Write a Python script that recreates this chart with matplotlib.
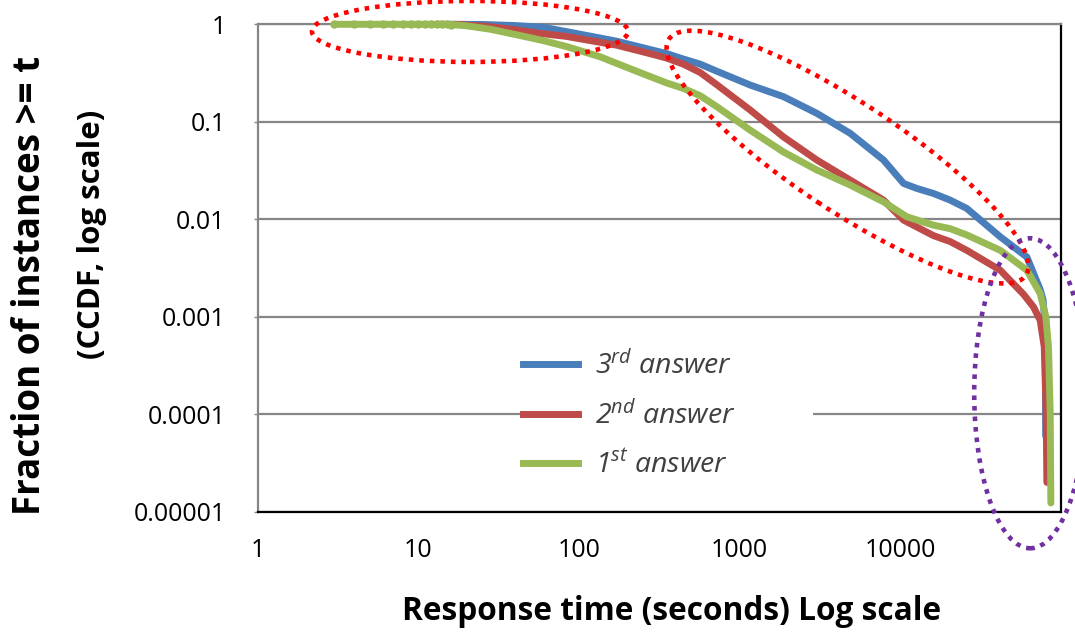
import matplotlib
matplotlib.use("Agg")
import matplotlib.pyplot as plt
from matplotlib.patches import Ellipse, Rectangle
from matplotlib.lines import Line2D
from matplotlib.transforms import ScaledTranslation
from matplotlib.ticker import NullLocator, FixedLocator, FixedFormatter

plt.rcParams['font.family'] = ['Open Sans', 'DejaVu Sans']
plt.rcParams['mathtext.fontset'] = 'custom'
plt.rcParams['mathtext.it'] = 'Open Sans:italic'
plt.rcParams['mathtext.rm'] = 'Open Sans'

# ---------------- data ----------------
series_names = ["3$^{rd}$ answer", "2$^{nd}$ answer", "1$^{st}$ answer"]
series_colors = ["#4A7EBB", "#BE4B48", "#98B954"]

third_x = [15, 25, 40, 60, 84, 172, 352, 447, 569, 722, 1165, 1877, 3030, 4890,
           7880, 10500, 12700, 16100, 20500, 26000, 42000, 61500, 74400, 77500,
           79500, 80200, 80500]
third_y = [1.0, 0.995, 0.97, 0.93, 0.84, 0.67, 0.50, 0.44, 0.39, 0.33, 0.238,
           0.181, 0.122, 0.076, 0.0405, 0.0233, 0.0207, 0.0184, 0.0157, 0.0129,
           0.0066, 0.0041, 0.0019, 0.0015, 0.0009, 0.0003, 0.00006]

second_x = [13, 18, 27, 40, 56, 84, 172, 277, 352, 447, 569, 722, 1165, 1877,
            3030, 4890, 7880, 10500, 16100, 20500, 26000, 42000, 58600, 67600,
            74400, 78900, 81100, 81900]
second_y = [1.0, 0.995, 0.95, 0.88, 0.81, 0.75, 0.61, 0.50, 0.45, 0.39, 0.32,
            0.24, 0.132, 0.070, 0.0405, 0.0252, 0.0157, 0.0098, 0.0068, 0.0059,
            0.0048, 0.0030, 0.0017, 0.00126, 0.00092, 0.00049, 0.0001, 0.00002]

first_x = [3, 4, 5, 6, 7, 8, 9, 10, 11, 12, 13, 14, 15, 16, 20, 28, 41, 60, 84,
           135, 218, 352, 447, 569, 722, 1165, 1877, 3030, 4890, 7880, 11000,
           16100, 20500, 26000, 42000, 61500, 74400, 80700, 83800, 85900, 86700]
first_y = [1.0, 1.0, 1.0, 1.0, 1.0, 1.0, 1.0, 1.0, 1.0, 1.0, 1.0, 0.999, 0.997,
           0.993, 0.965, 0.89, 0.78, 0.68, 0.59, 0.465, 0.34, 0.25, 0.22, 0.185,
           0.143, 0.082, 0.049, 0.032, 0.0224, 0.0151, 0.0106, 0.0087, 0.0080,
           0.0069, 0.0048, 0.0030, 0.00173, 0.001, 0.00049, 0.000102, 0.0000123]

x_ticks = [1, 10, 100, 1000, 10000]
x_tick_labels = ["1", "10", "100", "1000", "10000"]
y_ticks = [1, 0.1, 0.01, 0.001, 0.0001, 0.00001]
y_tick_labels = ["1", "0.1", "0.01", "0.001", "0.0001", "0.00001"]

# annotation ellipses: centre in data coords, size in pixels
ann_centers = [(21, 0.844), (4700, 0.0434), (64500, 0.000164)]
ann_sizes = [(316, 61, 0), (428, 108, -33.5), (112, 310, 0)]
ann_colors = ["#FF0000", "#FF0000", "#7030A0"]

# ---------------- figure ----------------
fig = plt.figure(figsize=(10.75, 6.32), dpi=100)
ax = fig.add_axes([0.2396, 0.1903, 0.7472, 0.7713])
ax.set_xscale('log')
ax.set_yscale('log')
ax.set_xlim(1, 100000)
ax.set_ylim(0.00001, 1)

grid_color = "#868686"
ax.yaxis.set_major_locator(FixedLocator(y_ticks))
ax.yaxis.set_major_formatter(FixedFormatter(y_tick_labels))
ax.xaxis.set_major_locator(FixedLocator(x_ticks))
ax.xaxis.set_major_formatter(FixedFormatter(x_tick_labels))
ax.xaxis.set_minor_locator(NullLocator())
ax.yaxis.set_minor_locator(NullLocator())
ax.set_axisbelow(True)
ax.yaxis.grid(True, color=grid_color, lw=1.6)
ax.xaxis.grid(False)

ax.tick_params(axis='y', length=3, width=1, color=grid_color, pad=20, labelsize=18)
ax.tick_params(axis='x', length=0, pad=19, labelsize=18)

ax.spines['left'].set_color(grid_color)
ax.spines['top'].set_color(grid_color)
ax.spines['left'].set_linewidth(1.6)
ax.spines['top'].set_linewidth(1.6)
ax.spines['right'].set_color('black')
ax.spines['bottom'].set_color('black')
ax.spines['right'].set_linewidth(1.6)
ax.spines['bottom'].set_linewidth(1.6)

# white legend background hiding part of the gridline
ax.add_patch(Rectangle((0.33, 0.045), 0.3615, 0.31, transform=ax.transAxes,
                       facecolor='white', edgecolor='none', zorder=1.5))

all_x = [third_x, second_x, first_x]
all_y = [third_y, second_y, first_y]
for i, (xs, ys, c) in enumerate(zip(all_x, all_y, series_colors)):
    if i == 2:
        ax.plot(xs, ys, color=c, lw=5, solid_capstyle='round', zorder=3 + i,
                marker='o', ms=5, markevery=list(range(14)), clip_on=False)
    else:
        ax.plot(xs, ys, color=c, lw=5, solid_capstyle='round', zorder=3 + i,
                clip_on=False)

handles = [Line2D([0], [0], color=c, lw=5) for c in series_colors]
leg = ax.legend(handles, series_names, loc='upper left',
                bbox_to_anchor=(0.33, 0.33), frameon=False,
                handlelength=1.95, handletextpad=0.6, labelspacing=0.72,
                borderpad=0, borderaxespad=0,
                prop={'family': 'Open Sans', 'style': 'italic', 'size': 20.5},
                labelcolor='#404040')
leg.set_zorder(10)

# annotation ellipses
for (cx, cy), (w, h, ang), col in zip(ann_centers, ann_sizes, ann_colors):
    tr = fig.dpi_scale_trans + ScaledTranslation(cx, cy, ax.transData)
    e = Ellipse((0, 0), w / 100, h / 100, angle=ang, transform=tr,
                fill=False, edgecolor=col, lw=3.3, linestyle=(0, (1, 1.3)),
                clip_on=False, zorder=12)
    fig.add_artist(e)

# axis titles
fig.text(0.625, 0.019, "Response time (seconds) Log scale", ha='center',
         va='baseline', fontsize=22.8, fontweight='bold')
fig.text(0.0279, 0.549, "Fraction of instances >= t", rotation=90,
         ha='center', va='center', fontsize=26.5, fontweight='bold')
fig.text(0.0856, 0.6297, "(CCDF, log scale)", rotation=90,
         ha='center', va='center', fontsize=22.5, fontweight='bold')

fig.savefig("out.png", dpi=100)
